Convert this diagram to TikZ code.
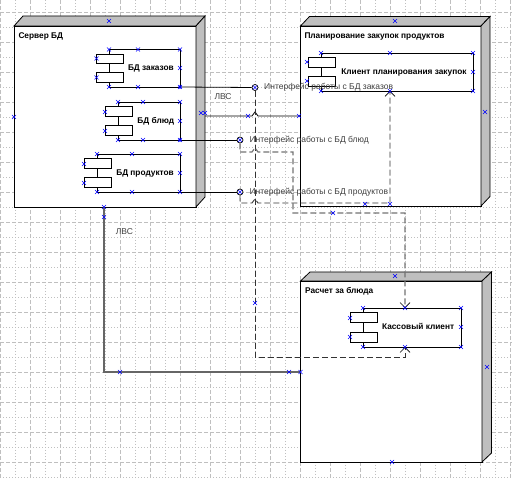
\documentclass[tikz,border=0pt]{standalone}
\usepackage{fontspec}
\setmainfont{Liberation Sans}
\usetikzlibrary{arrows.meta,shapes.misc}

\tikzset{
  minor/.style={black!25, line width=0.6pt, dash pattern=on 1pt off 2pt},
  major/.style={black!25, line width=0.8pt, dash pattern=on 4pt off 2pt},
  face/.style={draw=black, fill=white, line width=0.8pt},
  side/.style={draw=black, fill=black!25, line width=0.8pt},
  part/.style={draw=black, fill=white, line width=0.7pt},
  title/.style={font=\bfseries\fontsize{8.3}{9}\selectfont, inner sep=0pt},
  iface/.style={font=\fontsize{8.5}{9}\selectfont, text=black!75, inner sep=0pt},
  iball/.style={circle, draw=black, fill=white, line width=0.7pt, minimum size=6pt, inner sep=0pt},
  lvs/.style={black, line width=0.8pt},
  dep/.style={black!80, line width=0.9pt, dash pattern=on 6pt off 3pt,
    -{Straight Barb[length=5pt,width=10pt,color=black,line width=0.7pt]}},
  hnd/.style={cross out, draw=blue, line width=0.5pt, minimum size=3.5pt, inner sep=0pt},
}

\begin{document}
\begin{tikzpicture}[x=1pt,y=-1pt]
\useasboundingbox (0,0) rectangle (512,478);

% grid
\foreach \x in {15,45,...,505} \draw[minor] (\x,0) -- (\x,478);
\foreach \y in {27,57,...,477} \draw[minor] (0,\y) -- (512,\y);
\foreach \x in {0,30,...,510} \draw[major] (\x,0) -- (\x,478);
\foreach \y in {12,42,...,462} \draw[major] (0,\y) -- (512,\y);

% nodes
\draw[face] (14,26) rectangle (196,207);
\draw[side] (14,26) -- (23,16) -- (205,16) -- (196,26) -- cycle;
\draw[side] (196,26) -- (205,16) -- (205,197) -- (196,207) -- cycle;

\draw[face] (300.5,26) rectangle (481,206);
\draw[side] (300.5,26) -- (309.5,16.5) -- (490,16.5) -- (481,26) -- cycle;
\draw[side] (481,26) -- (490,16.5) -- (490,196.5) -- (481,206) -- cycle;

\draw[face] (300.5,281) rectangle (482,462);
\draw[side] (300.5,281) -- (310,272) -- (491.5,272) -- (482,281) -- cycle;
\draw[side] (482,281) -- (491.5,272) -- (491.5,453) -- (482,462) -- cycle;

\node[title, anchor=base west] (srv) at (18.3,38.3) {Сервер БД};
\node[title, anchor=base west] (plan) at (304.3,38.3) {Планирование закупок продуктов};
\node[title, anchor=base west] (ras) at (305,293.3) {Расчет за блюда};

% components
\foreach \vx/\ty/\by/\rx in {109/49.5/87/180, 118/102/140/180, 97/154/192/180,
                             321/53/91/473, 363/308/347/461}{
  \draw[line width=0.8pt] (\vx,\ty) -| (\rx,\by) -- (\vx,\by) -- cycle;
  \fill[black!45] (\vx-12,\ty+5.5) rectangle (\vx+15,\ty+15);
  \draw[part] (\vx-13,\ty+4.5) rectangle (\vx+14,\ty+14);
  \fill[black!45] (\vx-12,\by-13.5) rectangle (\vx+15,\by-4);
  \draw[part] (\vx-13,\by-14.5) rectangle (\vx+14,\by-5);
}

\node[title, anchor=base east] (zak) at (174,71) {БД заказов};
\node[title, anchor=base east] (blu) at (174.3,123.3) {БД блюд};
\node[title, anchor=base east] (pro) at (174,176) {БД продуктов};
\node[title, anchor=base east] (kpz) at (466.7,74.7) {Клиент планирования закупок};
\node[title, anchor=base east] (kas) at (454.3,330) {Кассовый клиент};

\coordinate (zakR) at (180,87);
\coordinate (bluR) at (180,140);
\coordinate (proR) at (180,192);
\coordinate (kpzB) at (390,91);
\coordinate (kasT) at (405,308);
\coordinate (kasB) at (405,347);
\coordinate (srvR) at (205,116);
\coordinate (srvB) at (104,207);
\coordinate (planL) at (300.5,116);
\coordinate (rasL) at (300.5,372);

% interfaces
\node[iball] (i1) at (255,87.5) {};
\node[iball] (i2) at (240,140) {};
\node[iball] (i3) at (240,192) {};
\draw[lvs] (zakR) -- (i1.west);
\draw[lvs] (bluR) -- (i2.west);
\draw[lvs] (proR) -- (i3.west);

\node[iface, anchor=base west] (t1) at (264,90) {Интерфейс работы с БД заказов};
\node[iface, anchor=base west] (t2) at (249.3,142.7) {Интерфейс работы с БД блюд};
\node[iface, anchor=base west] (t3) at (249.3,195) {Интерфейс работы с БД продуктов};

% LAN
\draw[lvs] (srvR) -- (252,116) -- (255,112) -- (258,116) -- (planL);
\draw[lvs, black!60, line width=1.3pt] (srvB) -- (104,372) -- (rasL);
\node[iface, anchor=base west] (lan1) at (214.3,100) {ЛВС};
\node[iface, anchor=base west] (lan2) at (115.7,235) {ЛВС};

% dependencies
\draw[dep] (i1.south) -- (255,357) -| (kasB);
\draw[dep, black!55, line width=1.2pt] (i2.south) -- (240,152) -- (252,152) -- (255,148)
  -- (258,152) -- (293,152) -- (293,213) -| (kasT);
\draw[dep] (i3.south) -- (240,203) -- (252,203) -- (255,199) -- (258,203) -| (kpzB);

% handles
\fill[blue] (180,87) circle (1.8);
\fill[blue] (180,140) circle (1.8);
\foreach \x/\y [count=\i] in {109/21, 14/117, 104/207, 104/217, 201/113, 205/113,
    109/49.5, 138/49.5, 180/49.5, 96.5/58.5, 96.5/77.5, 180/68, 109/87, 138/87, 180/87,
    118/102, 143/102, 180/102, 105/112, 105/131, 180/121, 118/140, 143/140, 180/140,
    97/154, 132/154, 180/154, 84/164, 84/183, 180/173, 97/192, 132/192, 180/192,
    255/87.5, 240/140, 240/192, 248/116, 299/116,
    395/21, 485/112, 321/53, 390/53, 473/53, 307/62, 307/81, 473/72, 321/91, 390/91, 473/91,
    365/204, 390/204, 333/213, 255/303,
    395/276, 487/367, 392/462, 300.5/372, 289/372, 120/372,
    363/308, 405/308, 461/308, 350/318, 350/337, 461/327, 363/347, 405/347, 461/347}
  \node[hnd] (h\i) at (\x,\y) {};
\end{tikzpicture}
\end{document}
